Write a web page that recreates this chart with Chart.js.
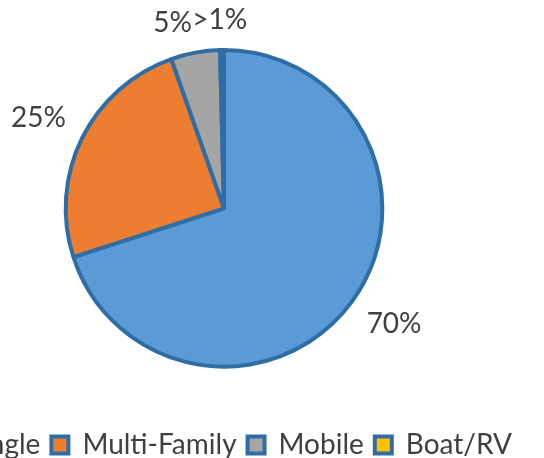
<!DOCTYPE html>
<html>
<head>
<meta charset="utf-8">
<script src="https://cdn.jsdelivr.net/npm/chart.js@4.4.0/dist/chart.umd.min.js"></script>
<style>
  html, body { margin: 0; padding: 0; background: #fff; }
  #wrap { position: relative; width: 544px; height: 458px; overflow: hidden; }
  #box { position: absolute; left: -126px; top: 0; width: 700px; height: 469px; }
</style>
</head>
<body>
<div id="wrap"><div id="box"><canvas id="torta"></canvas></div></div>
<script>
const ctx = document.getElementById('torta')

// dati
const categorie = ['Single', 'Multi-Family', 'Mobile', 'Boat/RV']
const valori = [70, 24.6, 5, 0.4]
const etichette = ['70%', '25%', '5%', '>1%']
const colori = ['#5B9BD5', '#ED7D31', '#A5A5A5', '#FFC000']

const testo = '#404040'
const font = 'Lato, "Open Sans", sans-serif'

// etichette percentuali fuori dalla torta, stile Excel
const etichettePlugin = {
  id: 'etichettePlugin',
  afterDatasetsDraw: (chart) => {
    const c = chart.ctx
    const arcs = chart.getDatasetMeta(0).data
    c.save()
    c.font = '28px ' + font
    c.fillStyle = testo
    c.textAlign = 'center'
    c.textBaseline = 'middle'
    arcs.forEach((arc, i) => {
      const p = arc.getProps(['x', 'y', 'startAngle', 'endAngle', 'outerRadius'], true)
      const mid = (p.startAngle + p.endAngle) / 2
      const dx = Math.cos(mid)
      const dy = Math.sin(mid)
      const w = c.measureText(etichette[i]).width
      const h = 24
      const r = p.outerRadius + 18
      const ox = Math.max(-1, Math.min(1, dx * 6)) * w / 2
      const oy = Math.max(-1, Math.min(1, dy * 6)) * h / 2
      c.fillText(etichette[i], p.x + dx * r + ox, p.y + dy * r + oy)
    })
    c.restore()
  }
}

const grafico = new Chart(ctx, {
  type: 'pie',
  data: {
    labels: categorie,
    datasets: [{
      data: valori,
      backgroundColor: colori,
      borderColor: '#2F6EA5',
      borderWidth: 4
    }]
  },
  options: {
    responsive: true,
    maintainAspectRatio: false,
    animation: false,
    events: [],
    layout: { padding: { top: 48, bottom: 0 } },
    plugins: {
      tooltip: { enabled: false },
      legend: {
        position: 'bottom',
        title: { display: true, text: '', padding: { top: 37, bottom: 0 } },
        labels: {
          boxWidth: 17,
          boxHeight: 17,
          padding: 11,
          color: testo,
          font: { size: 28, family: font }
        }
      }
    }
  },
  plugins: [etichettePlugin]
})
</script>
</body>
</html>
